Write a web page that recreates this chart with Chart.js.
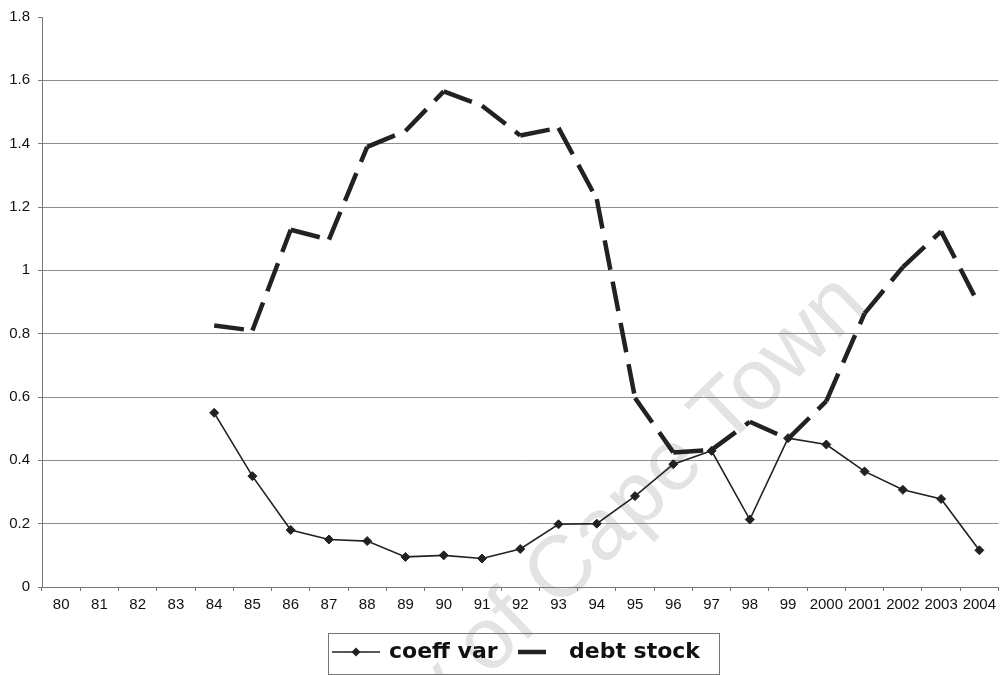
<!DOCTYPE html>
<html><head><meta charset="utf-8">
<script src="https://cdn.jsdelivr.net/npm/chart.js@4/dist/chart.umd.min.js"></script>
<style>html,body{margin:0;padding:0;background:#fff;}canvas{display:block;}</style>
</head><body>
<canvas id="c" width="1004" height="675"></canvas>
<script>
const categories = ['80','81','82','83','84','85','86','87','88','89','90','91','92','93','94','95','96','97','98','99','2000','2001','2002','2003','2004'];
const coeffVar = [null,null,null,null,0.55,0.35,0.18,0.15,0.145,0.095,0.10,0.09,0.12,0.198,0.20,0.287,0.388,0.43,0.213,0.47,0.45,0.365,0.307,0.278,0.116];
const debtStock = [null,null,null,null,0.826,0.81,1.128,1.097,1.39,1.44,1.565,1.52,1.426,1.45,1.225,0.597,0.425,0.433,0.522,0.468,0.587,0.864,1.01,1.123,0.889];
const yTicks = [0,0.2,0.4,0.6,0.8,1,1.2,1.4,1.6,1.8];
const seriesNames = ['coeff var','debt stock'];
const watermarkText = 'University of Cape Town';

const bgAndWatermark = {
  id:'bgw',
  beforeDraw(chart){
    const ctx = chart.ctx;
    ctx.save();
    ctx.fillStyle='#fff';
    ctx.fillRect(0,0,chart.width,chart.height);
    ctx.font = '87px "Liberation Sans", Arial, sans-serif';
    ctx.fillStyle = '#e3e3e3';
    ctx.textBaseline = 'alphabetic';
    const wOf = ctx.measureText('of Cape Town').width;
    const wUni = ctx.measureText('University ').width;
    ctx.translate(679,493);
    ctx.rotate(-44*Math.PI/180);
    ctx.fillText(watermarkText, -wOf/2 - wUni, 0);
    ctx.restore();
  }
};

const legendBox = {
  id:'legendBox',
  afterDraw(chart){
    const ctx = chart.ctx;
    ctx.save();
    ctx.strokeStyle='#777'; ctx.lineWidth=1; ctx.setLineDash([]);
    ctx.strokeRect(328.5,633.5,391,41);
    // coeff var marker
    ctx.strokeStyle='#222'; ctx.lineWidth=1.5;
    ctx.beginPath(); ctx.moveTo(332,652); ctx.lineTo(380,652); ctx.stroke();
    ctx.fillStyle='#222';
    ctx.beginPath(); ctx.moveTo(356,647.5); ctx.lineTo(360.5,652); ctx.lineTo(356,656.5); ctx.lineTo(351.5,652); ctx.closePath(); ctx.fill();
    // debt stock marker
    ctx.lineWidth=4.5;
    ctx.beginPath(); ctx.moveTo(518,652); ctx.lineTo(546,652); ctx.stroke();
    ctx.font='bold 22px "DejaVu Sans", sans-serif';
    ctx.fillStyle='#111'; ctx.textBaseline='alphabetic'; ctx.textAlign='left';
    ctx.fillText(seriesNames[0],389,658);
    ctx.fillText(seriesNames[1],569,658);
    ctx.restore();
  }
};

new Chart(document.getElementById('c'), {
  type:'line',
  data:{
    labels:categories,
    datasets:[
      {label:seriesNames[0], data:coeffVar, borderColor:'#222', borderWidth:1.6, backgroundColor:'#222',
       pointStyle:'rectRot', pointRadius:4.5, pointBackgroundColor:'#222', pointBorderColor:'#222', pointBorderWidth:1, tension:0},
      {label:seriesNames[1], data:debtStock, borderColor:'#222', borderWidth:4.5, borderDash:[30,12],
       pointRadius:0, tension:0, borderCapStyle:'butt',
       segment:{borderDashOffset: c => (c.p0DataIndex % 2) * 0.001}}
    ]
  },
  options:{
    responsive:false, animation:false, devicePixelRatio:1,
    layout:{padding:{top:15,right:2,left:0,bottom:0}},
    plugins:{legend:{display:false}, tooltip:{enabled:false}},
    scales:{
      x:{
        offset:true,
        grid:{offset:true, drawOnChartArea:false, drawTicks:true, tickLength:4, color:'#777'},
        border:{display:true, color:'#777', width:1},
        ticks:{font:{family:'"Liberation Sans", Arial, sans-serif', size:15}, color:'#111', padding:5, maxRotation:0, autoSkip:false},
        afterFit(s){ s.height = 88; }
      },
      y:{
        min:0, max:1.8,
        afterBuildTicks(s){ s.ticks = yTicks.map(v=>({value:v})); },
        ticks:{font:{family:'"Liberation Sans", Arial, sans-serif', size:15}, color:'#111', padding:8,
               callback:v=>String(+v.toFixed(1))},
        grid:{color:c=> (c.tick && c.tick.value>1.79) ? 'rgba(0,0,0,0)' : '#8c8c8c', tickColor:'#777', tickLength:4, lineWidth:1},
        border:{display:true, color:'#777', width:1},
        afterFit(s){ s.width = 42; }
      }
    }
  },
  plugins:[bgAndWatermark, legendBox]
});
</script>
</body></html>
